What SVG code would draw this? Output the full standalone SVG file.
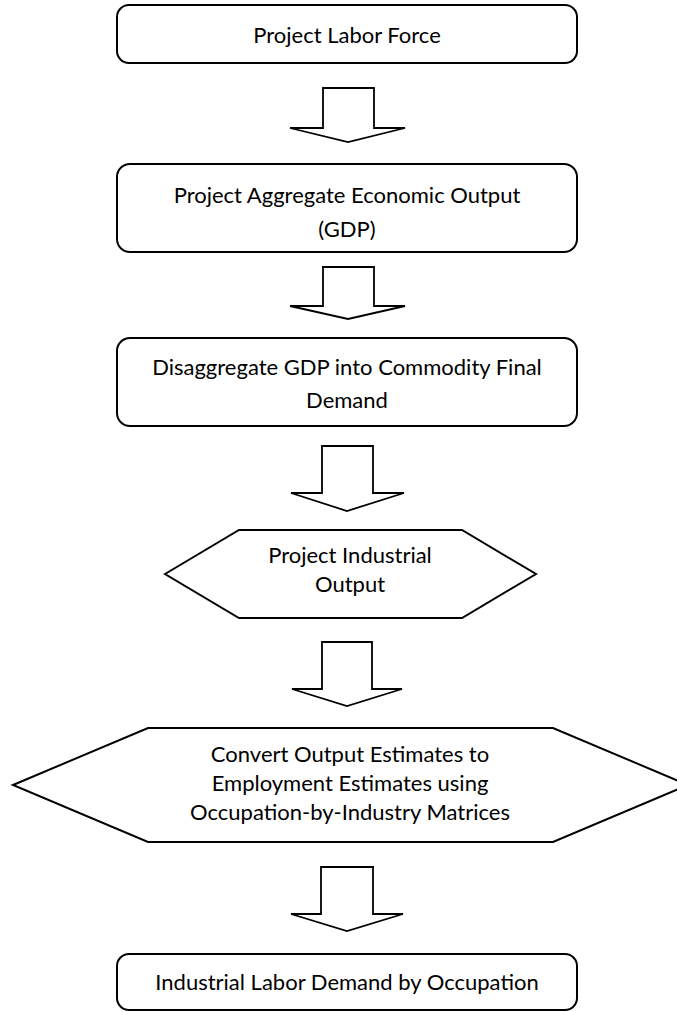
<svg xmlns="http://www.w3.org/2000/svg" width="677" height="1012" viewBox="0 0 677 1012">
<style>
.node{fill:#fff;stroke:#000;stroke-width:2}
.arrow{fill:#fff;stroke:#000;stroke-width:1.8;stroke-linejoin:miter}
text{font-family:Lato,"Open Sans","Liberation Sans",sans-serif;font-size:22px;fill:#000;text-anchor:middle}
</style>
<rect width="677" height="1012" fill="#fff"/>
<g id="connectors">
<polygon class="arrow" points="323,88 374,88 374,128 405,128 348,142 290,128 323,128"/>
<polygon class="arrow" points="323,267 374,267 374,306 405,306 348,319 290,306 323,306"/>
<polygon class="arrow" points="322,446 373,446 373,493 404,493 347,511 291,493 322,493"/>
<polygon class="arrow" points="322,642 372,642 372,689 402,689 347,706 292,689 322,689"/>
<polygon class="arrow" points="321,867 373,867 373,914 403,914 347,931 291,914 321,914"/>
</g>
<g id="node1">
<rect class="node" x="117" y="5" width="460" height="58" rx="12"/>
<text x="347" y="42.5">Project Labor Force</text>
</g>
<g id="node2">
<rect class="node" x="117" y="164" width="460" height="88" rx="13"/>
<text x="347" y="203">Project Aggregate Economic Output</text>
<text x="347" y="237">(GDP)</text>
</g>
<g id="node3">
<rect class="node" x="117" y="338" width="460" height="88" rx="13"/>
<text x="347" y="375">Disaggregate GDP into Commodity Final</text>
<text x="347" y="408">Demand</text>
</g>
<g id="node4">
<polygon class="node" points="165,574 239,530 462,530 536,574 462,618 239,618"/>
<text x="350" y="563">Project Industrial</text>
<text x="350" y="592">Output</text>
</g>
<g id="node5">
<polygon class="node" points="13,785 148,728 553,728 688,785 553,842 148,842"/>
<text x="350" y="762">Convert Output Estimates to</text>
<text x="350" y="791">Employment Estimates using</text>
<text x="350" y="820">Occupation-by-Industry Matrices</text>
</g>
<g id="node6">
<rect class="node" x="117" y="954" width="460" height="56" rx="12"/>
<text x="347" y="990">Industrial Labor Demand by Occupation</text>
</g>
</svg>
